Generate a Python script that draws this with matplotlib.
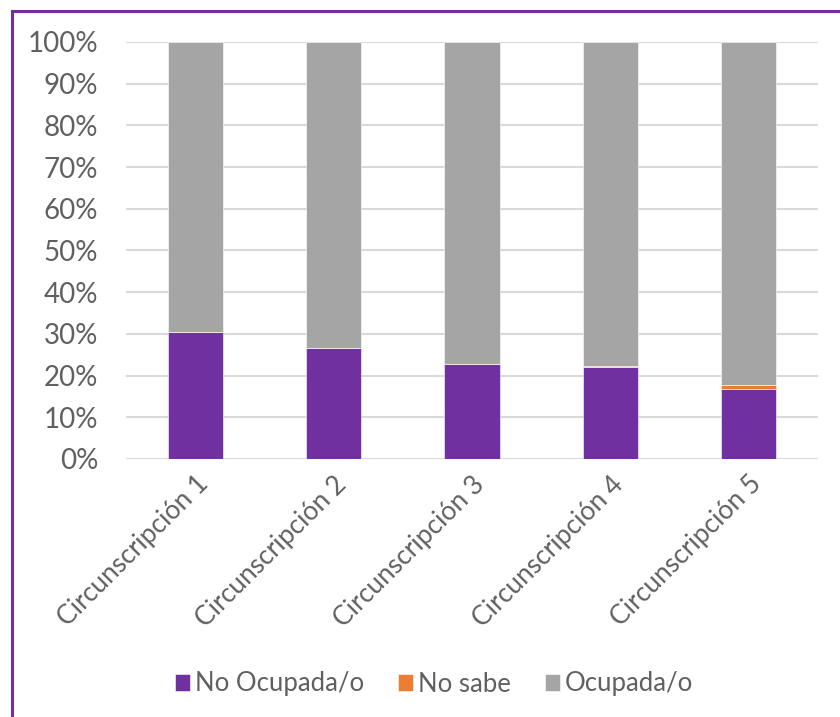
import numpy as np
import matplotlib
matplotlib.use("Agg")
import matplotlib.pyplot as plt
from matplotlib.patches import Rectangle
from matplotlib.ticker import FuncFormatter

categories = ['Circunscripción 1', 'Circunscripción 2', 'Circunscripción 3',
              'Circunscripción 4', 'Circunscripción 5']
no_ocupada = [30.5, 26.5, 22.7, 22.1, 16.9]
no_sabe    = [0.0, 0.0, 0.15, 0.3, 0.8]
ocupada    = [69.5, 73.5, 77.15, 77.6, 82.3]

series_names  = ['No Ocupada/o', 'No sabe', 'Ocupada/o']
series_colors = ['#7030A0', '#ED7D31', '#A5A5A5']

plt.rcParams['font.family'] = ['Lato', 'DejaVu Sans']
text_color = '#606060'

fig = plt.figure(figsize=(8.4, 7.17), dpi=100)
ax = fig.add_axes([126/840, 1-459/717, (818-126)/840, (459-42)/717])

x = np.arange(len(categories))
bottom = np.zeros(len(categories))
for name, vals, col in zip(series_names, [no_ocupada, no_sabe, ocupada], series_colors):
	ax.bar(x, vals, 0.4, bottom=bottom, color=col, label=name,
	       edgecolor='white', linewidth=0.4, zorder=3)
	bottom += np.array(vals)

ax.set_xlim(-0.5, len(categories)-0.5)
ax.set_ylim(0, 100)
ax.set_yticks(np.arange(0, 101, 10))
ax.yaxis.set_major_formatter(FuncFormatter(lambda v, p: '{:d}%'.format(int(v))))
ax.grid(axis='y', color='#D9D9D9', linewidth=1.5, zorder=0)
ax.set_axisbelow(True)
for s in ax.spines.values():
	s.set_visible(False)
ax.tick_params(axis='both', length=0, colors=text_color)
ax.tick_params(axis='y', labelsize=20, pad=20)
ax.set_xticks(x)
ax.set_xticklabels(categories, rotation=45, ha='right', rotation_mode='anchor',
                   fontsize=19, color=text_color)
ax.tick_params(axis='x', pad=9)

fig.legend(loc='center', bbox_to_anchor=(434/840, 1-684/717), ncol=3, frameon=False,
           fontsize=18.5, labelcolor=text_color, handlelength=0.6, handleheight=0.6,
           handletextpad=0.2, columnspacing=1.3)

# purple frame (only top and left edge visible)
fig.patches.append(Rectangle((12/840, -0.1), 1.2, 1-11/717+0.1, transform=fig.transFigure,
                             fill=False, edgecolor='#7030A0', linewidth=2.2))

fig.savefig('out.png', dpi=100)
